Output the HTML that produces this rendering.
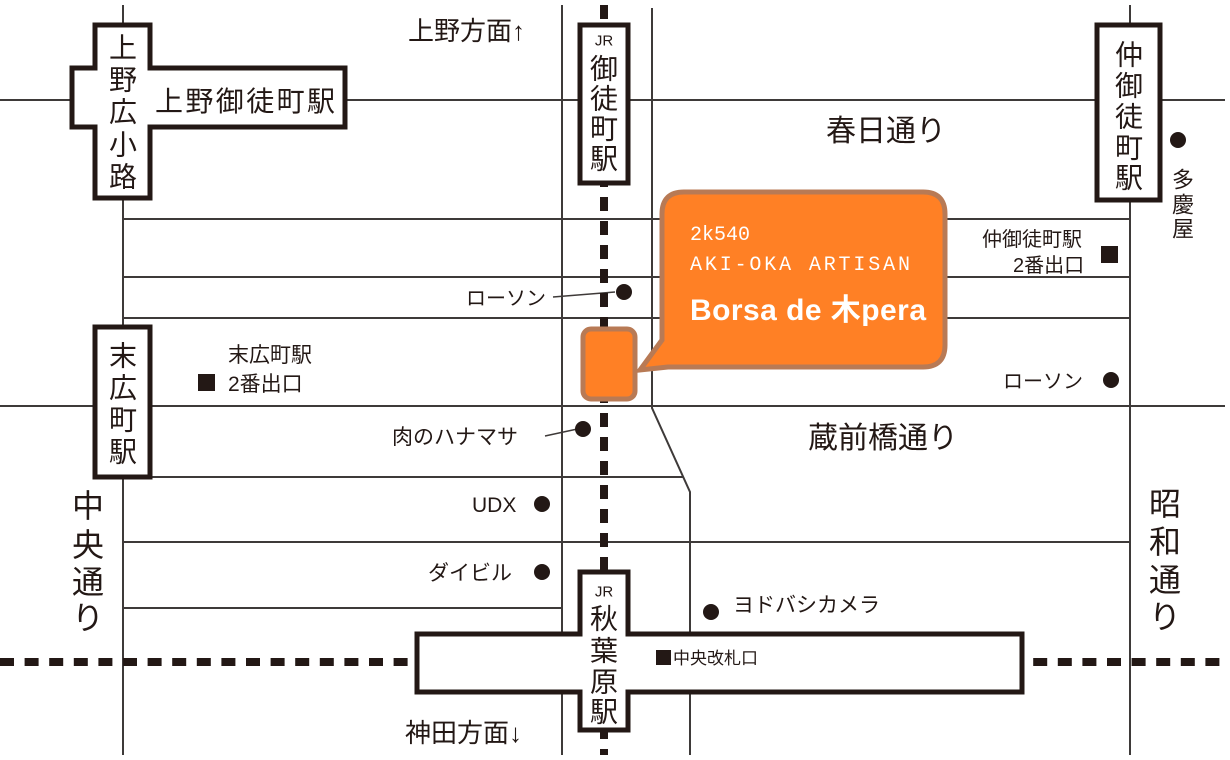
<!DOCTYPE html>
<html><head><meta charset="utf-8"><style>
html,body{margin:0;padding:0;background:#fff}
svg{display:block}
text{font-family:"Liberation Sans","Noto Sans CJK JP",sans-serif;fill:#231815}
.v{text-anchor:middle;dominant-baseline:central}
</style></head><body>
<svg width="1230" height="760" viewBox="0 0 1230 760" xmlns="http://www.w3.org/2000/svg">
<g stroke="#3e3a39" stroke-width="2" fill="none">
<line x1="0" y1="100" x2="1225" y2="100"/>
<line x1="0" y1="406" x2="1225" y2="406"/>
<line x1="123" y1="219" x2="1130" y2="219"/>
<line x1="123" y1="277" x2="1130" y2="277"/>
<line x1="123" y1="318" x2="1130" y2="318"/>
<line x1="123" y1="477" x2="683" y2="477"/>
<line x1="123" y1="542" x2="1130" y2="542"/>
<line x1="123" y1="608" x2="562" y2="608"/>
<line x1="123" y1="5" x2="123" y2="755"/>
<line x1="562" y1="5" x2="562" y2="755"/>
<polyline points="652,8 652,408 690,492 690,755"/>
<line x1="1130" y1="5" x2="1130" y2="755"/>
<line x1="553" y1="297" x2="615" y2="292" stroke-width="1.5"/>
<line x1="545" y1="436" x2="582" y2="428" stroke-width="1.5"/>
</g>
<g stroke="#231815" stroke-width="8" fill="none">
<line x1="604" y1="5" x2="604" y2="755" stroke-dasharray="14 10"/>
<line x1="0" y1="662" x2="1225" y2="662" stroke-dasharray="14 10.6"/>
</g>
<g fill="#fff" stroke="#231815" stroke-width="5">
<polygon points="95,25 150,25 150,68 345,68 345,127 150,127 150,198 95,198 95,127 72,127 72,68 95,68"/>
<rect x="580" y="25" width="48" height="158"/>
<rect x="1097" y="25" width="63" height="175"/>
<rect x="95" y="327" width="55" height="150"/>
<polygon points="580,572 628,572 628,634 1022,634 1022,692 628,692 628,730 580,730 580,692 417,692 417,634 580,634"/>
</g>
<g fill="#231815">
<circle cx="624" cy="292" r="8"/><circle cx="583" cy="429" r="8"/>
<circle cx="542" cy="504" r="8"/><circle cx="542" cy="572" r="8"/>
<circle cx="711" cy="612" r="8"/><circle cx="1178" cy="140" r="8"/>
<circle cx="1111" cy="380" r="8"/>
<rect x="198" y="374" width="17" height="17"/>
<rect x="1101" y="246" width="17" height="17"/>
<rect x="656" y="650" width="15" height="15"/>
</g>
<rect x="583" y="329" width="52" height="70" rx="8" fill="#ff8025" stroke="#b87a55" stroke-width="5"/>
<path d="M684,192 H923 Q945,192 945,214 V345 Q945,367 923,367 H668 L640,370 L662,340 V214 Q662,192 684,192 Z" fill="#ff8025" stroke="#b87a55" stroke-width="5"/>
<text x="690" y="240" font-size="20" style="fill:#fff;font-family:'Liberation Mono',monospace">2k540</text>
<text x="690" y="270" font-size="20" textLength="220" style="fill:#fff;font-family:'Liberation Mono',monospace">AKI-OKA ARTISAN</text>
<text x="690" y="320" font-size="30" font-weight="bold" textLength="236" style="fill:#fff">Borsa de 木pera</text>
<text x="408" y="40" font-size="26">上野方面↑</text>
<text x="405" y="742" font-size="26">神田方面↓</text>
<text x="155" y="111" font-size="28" textLength="180">上野御徒町駅</text>
<text x="826" y="141" font-size="30">春日通り</text>
<text x="808" y="448" font-size="30">蔵前橋通り</text>
<text x="466" y="305" font-size="20">ローソン</text>
<text x="1003" y="388" font-size="20">ローソン</text>
<text x="228" y="362" font-size="21">末広町駅</text>
<text x="228" y="391" font-size="21">2番出口</text>
<text x="982" y="246" font-size="20">仲御徒町駅</text>
<text x="1013" y="272" font-size="20">2番出口</text>
<text x="392" y="444" font-size="21">肉のハナマサ</text>
<text x="472" y="512" font-size="21">UDX</text>
<text x="428" y="580" font-size="21">ダイビル</text>
<text x="733" y="612" font-size="21">ヨドバシカメラ</text>
<text x="673" y="664" font-size="17">中央改札口</text>
<g class="v" font-size="28">
<text x="123" y="48" class="v">上</text><text x="123" y="80" class="v">野</text><text x="123" y="112" class="v">広</text><text x="123" y="145" class="v">小</text><text x="123" y="177" class="v">路</text>
<text x="604" y="41" class="v" font-size="15">JR</text><text x="604" y="69" class="v">御</text><text x="604" y="99" class="v">徒</text><text x="604" y="129" class="v">町</text><text x="604" y="159" class="v">駅</text>
<text x="1129" y="55" class="v">仲</text><text x="1129" y="86" class="v">御</text><text x="1129" y="117" class="v">徒</text><text x="1129" y="148" class="v">町</text><text x="1129" y="178" class="v">駅</text>
<text x="123" y="356" class="v">末</text><text x="123" y="388" class="v">広</text><text x="123" y="420" class="v">町</text><text x="123" y="452" class="v">駅</text>
<text x="604" y="592" class="v" font-size="15">JR</text><text x="604" y="619" class="v">秋</text><text x="604" y="651" class="v">葉</text><text x="604" y="682" class="v">原</text><text x="604" y="712" class="v">駅</text>
<text x="1183" y="180" class="v" font-size="22">多</text><text x="1183" y="205" class="v" font-size="22">慶</text><text x="1183" y="229" class="v" font-size="22">屋</text>
<text x="88" y="506" class="v" font-size="32">中</text><text x="88" y="545" class="v" font-size="32">央</text><text x="88" y="582" class="v" font-size="32">通</text><text x="88" y="618" class="v" font-size="32">り</text>
<text x="1165" y="504" class="v" font-size="32">昭</text><text x="1165" y="542" class="v" font-size="32">和</text><text x="1165" y="580" class="v" font-size="32">通</text><text x="1165" y="617" class="v" font-size="32">り</text>
</g>
</svg>
</body></html>
